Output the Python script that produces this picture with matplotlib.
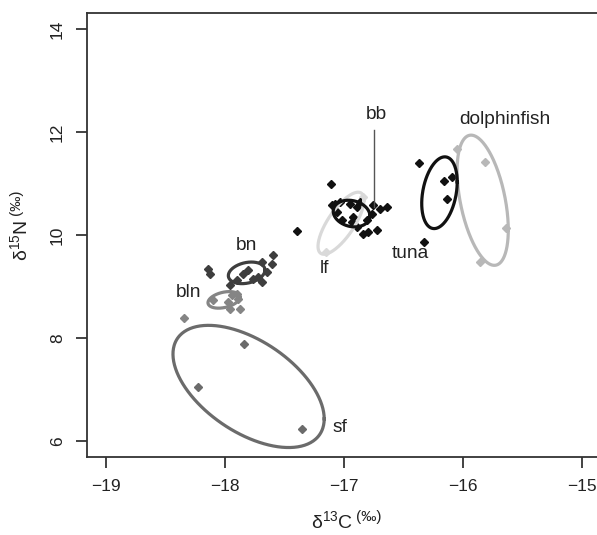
import numpy as np
import matplotlib
matplotlib.use("Agg")
import matplotlib.pyplot as plt

plt.rcParams['font.family'] = ['Liberation Sans', 'DejaVu Sans']
plt.rcParams['mathtext.fontset'] = 'custom'
plt.rcParams['mathtext.rm'] = 'Liberation Sans'
plt.rcParams['mathtext.it'] = 'Liberation Sans:italic'

# ---- data ----
sf_x = [-17.839, -18.228, -17.349]
sf_y = [7.877, 7.056, 6.237]

bln_x = [-17.942, -17.887, -17.872, -17.956, -18.097, -17.900, -17.971, -18.34]
bln_y = [8.831, 8.767, 8.572, 8.572, 8.733, 8.864, 8.700, 8.397]

bn_x = [-17.593, -17.606, -17.690, -18.144, -18.124, -17.845, -17.803, -17.761,
        -17.719, -17.648, -17.900, -17.690, -17.956]
bn_y = [9.609, 9.447, 9.479, 9.350, 9.253, 9.253, 9.317, 9.156,
        9.187, 9.284, 9.123, 9.089, 9.025]

bb_x = [-17.111, -17.396, -17.075, -17.102, -17.033, -16.949, -16.865, -16.893,
        -16.753, -16.697, -16.641, -17.018, -16.934, -16.921, -16.809, -16.767,
        -16.795, -16.837, -16.725, -17.060, -16.893]
bb_y = [11.004, 10.076, 10.615, 10.582, 10.646, 10.615, 10.646, 10.549,
        10.582, 10.518, 10.549, 10.290, 10.257, 10.354, 10.290, 10.420,
        10.062, 10.031, 10.095, 10.451, 10.160]

lf_x = [-17.15, -16.84]
lf_y = [9.68, 10.75]

tuna_x = [-16.367, -16.160, -16.092, -16.137, -16.325]
tuna_y = [11.405, 11.049, 11.126, 10.712, 9.868]

dol_x = [-15.815, -16.048, -15.639, -15.857]
dol_y = [11.424, 11.665, 10.148, 9.479]

# ellipses: centre x, centre y, half-extent x, half-extent y, phase (deg)
groups = ["sf", "bln", "bn", "bb", "lf", "tuna", "dolphinfish"]
ell_cx = [-17.80, -18.007, -17.816, -16.935, -17.024, -16.197, -15.834]
ell_cy = [7.061, 8.743, 9.268, 10.420, 10.232, 10.825, 10.679]
ell_rx = [0.635, 0.134, 0.154, 0.154, 0.193, 0.149, 0.215]
ell_ry = [1.187, 0.161, 0.210, 0.259, 0.603, 0.697, 1.265]
ell_ph = [122, 70, 75, 100, 42, 72.5, 117]
colors = ["#6b6b6b", "#858585", "#3e3e3e", "#111111", "#d9d9d9", "#111111", "#b8b8b8"]

points = [(sf_x, sf_y), (bln_x, bln_y), (bn_x, bn_y), (bb_x, bb_y),
          (lf_x, lf_y), (tuna_x, tuna_y), (dol_x, dol_y)]

label_x = [-17.030, -18.306, -17.816, -16.728, -17.163, -16.439, -15.647]
label_y = [6.268, 8.895, 9.804, 12.352, 9.354, 9.642, 12.249]

bb_line_x = [-16.745, -16.745]
bb_line_y = [12.04, 10.55]

xticks = [-19, -18, -17, -16, -15]
yticks = [6, 8, 10, 12, 14]

# ---- figure ----
fig = plt.figure(figsize=(5.97, 5.35), dpi=100)
ax = fig.add_axes([87/597, 78/535, (600.7-87)/597, (522-78)/535])
ax.set_xlim(-19.157, -14.843)
ax.set_ylim(5.69, 14.317)

t = np.linspace(0, 2*np.pi, 300)
order = [4, 6, 0, 1, 2, 5, 3]
for i in order:
    px, py = points[i]
    ax.plot(px, py, linestyle='none', marker='D', markersize=4,
            color=colors[i], zorder=2)
for i in order:
    ex = ell_cx[i] + ell_rx[i]*np.cos(t)
    ey = ell_cy[i] + ell_ry[i]*np.cos(t - np.deg2rad(ell_ph[i]))
    ax.plot(ex, ey, color=colors[i], lw=2.3, zorder=3)

for i, g in enumerate(groups):
    ax.text(label_x[i], label_y[i], g, fontsize=13.8, color='#222222',
            ha='center', va='center', zorder=4)
ax.plot(bb_line_x, bb_line_y, color='#555555', lw=1.0, zorder=4)

ax.set_xticks(xticks)
ax.set_xticklabels(["\u221219", "\u221218", "\u221217", "\u221216", "\u221215"])
ax.set_yticks(yticks)
ax.set_yticklabels([str(v) for v in yticks], rotation=90, va='center')
ax.tick_params(axis='both', direction='out', length=8, width=1.2,
               labelsize=12.5, colors='#222222')
ax.tick_params(axis='x', pad=8)
ax.tick_params(axis='y', pad=8)
for s in ['left', 'bottom', 'top']:
    ax.spines[s].set_linewidth(1.3)
    ax.spines[s].set_color('#333333')
ax.spines['right'].set_visible(False)

# axis titles
fig.text(311/597, 1 - 521/535, r'$\mathregular{\delta^{13}C}$', fontsize=14,
         ha='left', va='center', color='#222222')
fig.text(356/597, 1 - 517/535, '(‰)', fontsize=11, ha='left', va='center',
         color='#222222')
fig.text(20/597, 1 - 240/535, r'$\mathregular{\delta^{15}N}$', fontsize=14,
         rotation=90, ha='center', va='center', color='#222222')
fig.text(16/597, 1 - 202/535, '(‰)', fontsize=11, rotation=90,
         ha='center', va='center', color='#222222')

fig.savefig("out.png", dpi=100)
